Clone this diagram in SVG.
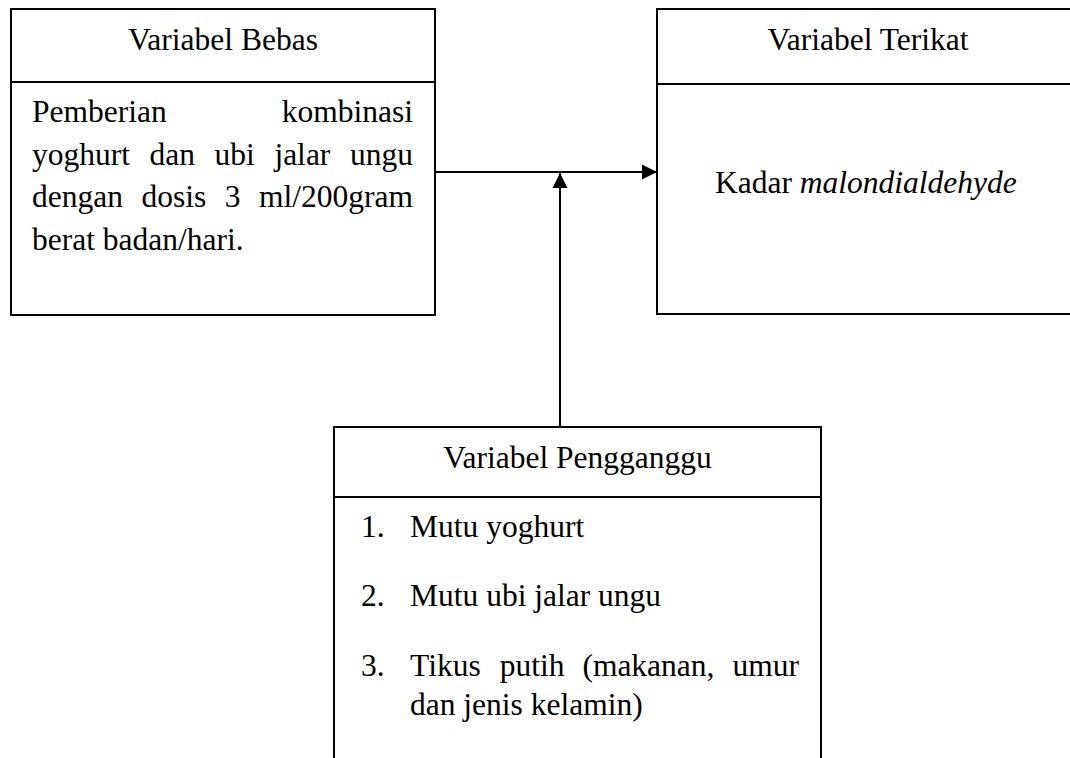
<svg xmlns="http://www.w3.org/2000/svg" width="1070" height="758" viewBox="0 0 1070 758">
<style>
.box{fill:#fff;stroke:#000;stroke-width:2}
.div{stroke:#000;stroke-width:2}
.t{font-family:"Liberation Serif","Times New Roman",serif;font-size:31.5px;fill:#000}
.c{text-anchor:middle}
.conn{stroke:#000;stroke-width:2;fill:none}
</style>
<defs>
<marker id="arr" markerUnits="userSpaceOnUse" markerWidth="16" markerHeight="16" viewBox="0 0 16 16" refX="15" refY="8" orient="auto">
<path d="M0,0.5 L15,8 L0,15.5 Z" fill="#000"/>
</marker>
</defs>
<rect width="1070" height="758" fill="#fff"/>
<g id="bebas">
<rect class="box" x="11" y="9" width="424" height="306"/>
<line class="div" x1="11" y1="82" x2="435" y2="82"/>
<text class="t c" x="223" y="50">Variabel Bebas</text>
<text class="t" y="122"><tspan x="32">Pemberian</tspan><tspan x="413" text-anchor="end">kombinasi</tspan></text>
<text class="t" y="165"><tspan x="32">yoghurt</tspan><tspan x="149.5">dan</tspan><tspan x="214.6">ubi</tspan><tspan x="274.4">jalar</tspan><tspan x="413" text-anchor="end">ungu</tspan></text>
<text class="t" y="207"><tspan x="32">dengan</tspan><tspan x="141.5">dosis</tspan><tspan x="224.8">3</tspan><tspan x="413" text-anchor="end">ml/200gram</tspan></text>
<text class="t" x="32" y="250">berat badan/hari.</text>
</g>
<g id="terikat">
<rect class="box" x="657" y="9" width="422" height="305"/>
<line class="div" x1="657" y1="84" x2="1079" y2="84"/>
<text class="t c" x="868" y="50">Variabel Terikat</text>
<text class="t" x="715" y="193">Kadar <tspan font-style="italic">malondialdehyde</tspan></text>
</g>
<g id="pengganggu">
<rect class="box" x="334" y="427" width="487" height="360"/>
<line class="div" x1="334" y1="497" x2="821" y2="497"/>
<text class="t c" x="577.5" y="468">Variabel Pengganggu</text>
<text class="t" x="361" y="537">1.</text>
<text class="t" x="410" y="537">Mutu yoghurt</text>
<text class="t" x="361" y="606">2.</text>
<text class="t" x="410" y="606">Mutu ubi jalar ungu</text>
<text class="t" x="361" y="676">3.</text>
<text class="t" y="676"><tspan x="410">Tikus</tspan><tspan x="499.7">putih</tspan><tspan x="582.4">(makanan,</tspan><tspan x="799" text-anchor="end">umur</tspan></text>
<text class="t" x="410" y="715">dan jenis kelamin)</text>
</g>
<g id="connectors">
<line class="conn" x1="435" y1="172" x2="657" y2="172" marker-end="url(#arr)"/>
<line class="conn" x1="560" y1="427" x2="560" y2="173" marker-end="url(#arr)"/>
</g>
</svg>
